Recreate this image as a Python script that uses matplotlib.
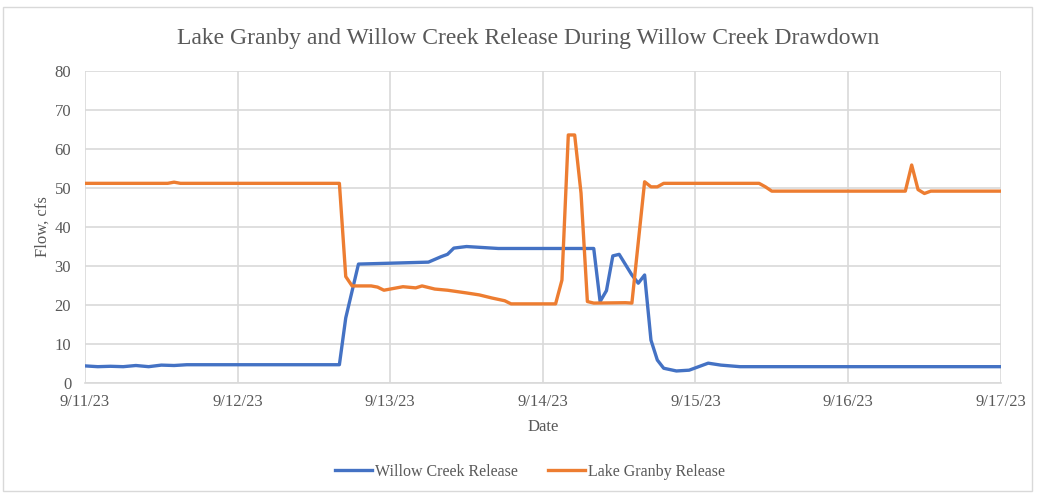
import matplotlib
matplotlib.use('Agg')
import matplotlib.pyplot as plt
import pandas as pd
from matplotlib.patches import Rectangle

# hours after 9/11/23 00:00 and flow (cfs) at each reading
willow_hours = [0, 2, 4, 6, 8, 10, 12, 14, 16, 40, 41, 43, 54, 56, 57, 58, 60, 65,
                80, 81, 82, 83, 84, 86, 87, 88, 89, 90, 91, 93, 95, 98, 100, 103, 144]
willow_cfs = [4.4, 4.2, 4.3, 4.2, 4.5, 4.2, 4.6, 4.5, 4.7, 4.7, 16.7, 30.5, 31.0, 32.4,
              33.0, 34.6, 35.0, 34.5, 34.5, 20.9, 23.7, 32.6, 33.0, 27.7, 25.6, 27.7,
              11.0, 5.9, 3.8, 3.1, 3.3, 5.1, 4.6, 4.2, 4.2]

granby_hours = [0, 13, 14, 15, 40, 41, 42, 45, 46, 47, 49, 50, 52, 53, 55, 57, 60, 62,
                64, 66, 67, 74, 75, 76, 77, 78, 79, 80, 85, 86, 88, 89, 90, 91, 106,
                107, 108, 129, 130, 131, 132, 133, 144]
granby_cfs = [51.2, 51.2, 51.5, 51.2, 51.2, 27.3, 24.9, 24.9, 24.6, 23.8, 24.4, 24.7,
              24.4, 24.9, 24.1, 23.8, 23.1, 22.6, 21.8, 21.1, 20.3, 20.3, 26.4, 63.6,
              63.6, 48.7, 20.9, 20.5, 20.6, 20.5, 51.6, 50.3, 50.3, 51.2, 51.2, 50.3,
              49.2, 49.2, 55.9, 49.6, 48.6, 49.2, 49.2]

start = pd.Timestamp('2023-09-11')
day_ticks = pd.date_range(start, periods=7, freq='D')

blue = '#4472C4'
orange = '#ED7D31'
grey_text = '#595959'
grid_col = '#D9D9D9'

plt.rcParams['font.family'] = ['Liberation Serif', 'DejaVu Serif']

fig = plt.figure(figsize=(10.37, 4.93), dpi=100)
ax = fig.add_axes([0.082, 0.223, 0.883, 0.633])

willow_t = start + pd.to_timedelta(willow_hours, unit='h')
granby_t = start + pd.to_timedelta(granby_hours, unit='h')
ax.plot(willow_t, willow_cfs, color=blue, lw=2.4, label='Willow Creek Release',
        solid_joinstyle='round')
ax.plot(granby_t, granby_cfs, color=orange, lw=2.4, label='Lake Granby Release',
        solid_joinstyle='round')

ax.set_xlim(day_ticks[0], day_ticks[-1])
ax.set_ylim(0, 80)
ax.set_xticks(day_ticks)
ax.set_xticklabels([f'{d.month}/{d.day}/{d.strftime("%y")}' for d in day_ticks])
ax.set_yticks(range(0, 81, 10))

ax.grid(True, color=grid_col, lw=1.2)
ax.set_axisbelow(True)
for side in ['top', 'right', 'left']:
    ax.spines[side].set_visible(False)
ax.spines['bottom'].set_color(grid_col)
ax.spines['bottom'].set_linewidth(1.2)
ax.tick_params(axis='both', length=0, labelsize=12, colors=grey_text, pad=8)
ax.tick_params(axis='y', pad=10)

ax.set_xlabel('Date', fontsize=12, color=grey_text, labelpad=6)
ax.set_ylabel('Flow, cfs', fontsize=12, color=grey_text, labelpad=3)

fig.text(0.509, 0.922, 'Lake Granby and Willow Creek Release During Willow Creek Drawdown',
         ha='center', va='center', fontsize=17, color=grey_text)

fig.legend(loc='center', bbox_to_anchor=(0.511, 0.043), ncol=2, frameon=False,
           fontsize=11.5, labelcolor=grey_text, handlelength=2.3, columnspacing=1.9,
           handletextpad=0.2)

# chart area border
fig.patches.append(Rectangle((0.003, 0.004), 0.992, 0.982, transform=fig.transFigure,
                             fill=False, edgecolor=grid_col, lw=1))

fig.savefig('out.png', dpi=100)
